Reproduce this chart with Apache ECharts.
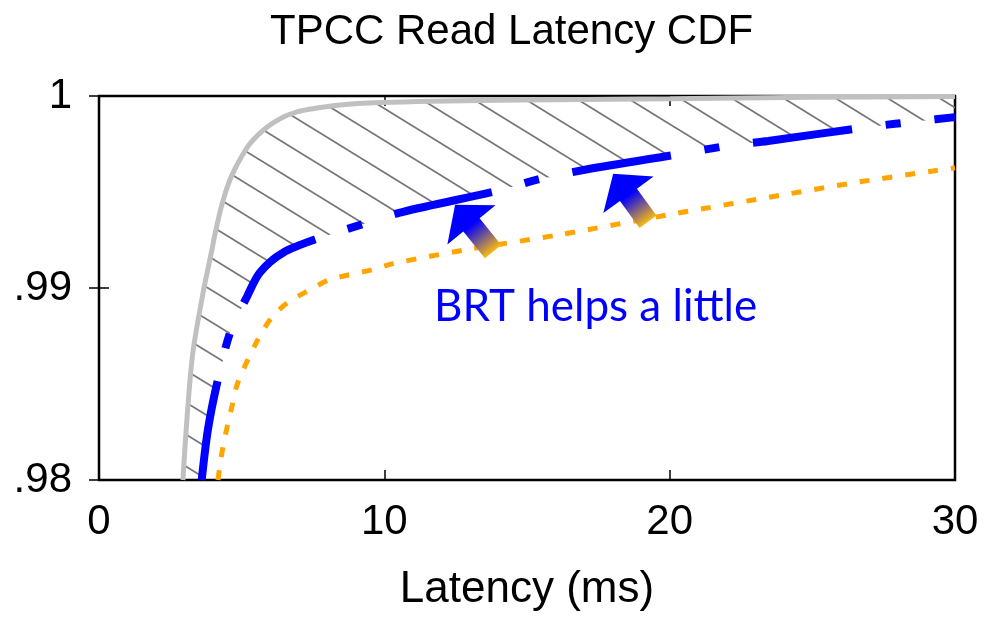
<!DOCTYPE html>
<html>
<head>
<meta charset="utf-8">
<script src="https://cdn.jsdelivr.net/npm/echarts@6/dist/echarts.min.js"></script>
<style>html,body{margin:0;padding:0;background:#fff}#c{width:990px;height:617px}</style>
</head>
<body>
<div id="c"></div>
<script>
// ---- data ----
const xTicks = [0, 10, 20, 30];
const yTickValues = [0.98, 0.99, 1];
const yTickLabels = ['.98', '.99', '1'];

const idealX = [2.94, 3.26, 3.65, 3.96, 4.05, 4.3, 4.59, 5.01, 5.4, 6.1, 6.94, 8.45, 9.85, 14, 20, 25, 30];
const idealY = [0.98, 0.98628, 0.98977, 0.9920, 0.9927, 0.9943, 0.99564, 0.99688, 0.99771, 0.9986, 0.99917, 0.99953, 0.99966, 0.99978, 0.99986, 0.99993, 0.99998];

const brtX = [3.6, 3.82, 4.17, 4.6, 5.19, 5.64, 6.45, 7.75, 9.3, 10.66, 14.13, 15.35, 17.03, 20.45, 22.0, 23.45, 26.99, 28.8, 30];
const brtY = [0.98, 0.98265, 0.98525, 0.9877, 0.98956, 0.99081, 0.99184, 0.99262, 0.99335, 0.99397, 0.99512, 0.99564, 0.99616, 0.997, 0.9974, 0.99766, 0.99839, 0.9987, 0.9989];

const baseX = [4.17, 4.35, 4.66, 4.87, 5.57, 6.06, 6.62, 7.29, 8.1, 9.6, 10.3, 12.9, 16.16, 20.1, 24.2, 26.67, 30];
const baseY = [0.98, 0.98177, 0.98384, 0.98509, 0.98732, 0.98847, 0.98925, 0.98982, 0.99044, 0.99096, 0.99127, 0.992, 0.99278, 0.99385, 0.99491, 0.99553, 0.99626];

const arrowTipX = [12.48, 18.02];
const arrowTipY = [0.99434, 0.99595];
const arrowTailX = [13.81, 19.24];
const arrowTailY = [0.9919, 0.99345];

const pairs = (xs, ys) => xs.map((x, i) => [x, ys[i]]);

// hatch pattern tile
const tile = document.createElement('canvas');
const tw = 52, th = 32;
tile.width = tw; tile.height = th;
(function () {
  const g = tile.getContext('2d');
  g.strokeStyle = '#777777';
  g.lineWidth = 1.8;
  for (let k = -1; k <= 1; k++) {
    g.beginPath();
    g.moveTo(-tw, -th + k * th);
    g.lineTo(2 * tw, 2 * th + k * th);
    g.stroke();
  }
})();

const chart = echarts.init(document.getElementById('c'), null, { renderer: 'canvas' });

const fontMain = 'Liberation Sans';
const tickStyle = { show: true, inside: true, length: 10, lineStyle: { color: '#000', width: 1.5 } };

const option = {
  animation: false,
  backgroundColor: '#fff',
  title: {
    text: 'TPCC Read Latency CDF',
    left: 265, top: 6,
    textStyle: { fontFamily: fontMain, fontSize: 42, fontWeight: 'normal', color: '#000' }
  },
  grid: { left: 99, right: 35, top: 96, bottom: 136, show: true, borderColor: '#000', borderWidth: 2.5, backgroundColor: 'transparent' },
  xAxis: [{
    type: 'value', min: 0, max: 30, interval: 10, position: 'bottom',
    axisLine: { show: false }, splitLine: { show: false },
    axisTick: tickStyle,
    axisLabel: { margin: 21, fontFamily: fontMain, fontSize: 42, color: '#000',
      formatter: v => xTicks.includes(v) ? String(v) : '' },
    name: 'Latency (ms)', nameLocation: 'middle', nameGap: 88,
    nameTextStyle: { fontFamily: fontMain, fontSize: 44, color: '#000' }
  }, {
    type: 'value', min: 0, max: 30, interval: 10, position: 'top',
    axisLine: { show: false }, splitLine: { show: false },
    axisTick: tickStyle, axisLabel: { show: false }
  }],
  yAxis: [{
    type: 'value', min: 0.98, max: 1, interval: 0.01, position: 'left',
    axisLine: { show: false }, splitLine: { show: false },
    axisTick: tickStyle,
    axisLabel: { margin: 27, fontFamily: fontMain, fontSize: 42, color: '#000',
      formatter: v => {
        let best = 0;
        yTickValues.forEach((t, i) => { if (Math.abs(t - v) < Math.abs(yTickValues[best] - v)) best = i; });
        return yTickLabels[best];
      } }
  }, {
    type: 'value', min: 0.98, max: 1, interval: 0.01, position: 'right',
    axisLine: { show: false }, splitLine: { show: false },
    axisTick: tickStyle, axisLabel: { show: false }
  }],
  series: [
    {
      type: 'custom', name: 'hatch', clip: true, z: 1,
      data: [[idealX[0], idealY[0]]],
      renderItem: (params, api) => {
        const pts = [];
        idealX.forEach((x, i) => pts.push(api.coord([x, idealY[i]])));
        for (let i = brtX.length - 1; i >= 0; i--) pts.push(api.coord([brtX[i], brtY[i]]));
        return { type: 'polygon', shape: { points: pts },
          style: { fill: { image: tile, repeat: 'repeat' }, stroke: null } };
      },
      silent: true
    },
    {
      type: 'line', name: 'ideal', data: pairs(idealX, idealY), showSymbol: false, smooth: 0.3, z: 3,
      lineStyle: { color: '#c0c0c0', width: 5 }, clip: true
    },
    {
      type: 'line', name: 'baseline', data: pairs(baseX, baseY), showSymbol: false, smooth: 0.3, z: 4,
      lineStyle: { color: '#ffa500', width: 5, type: [10, 13], cap: 'butt' }, clip: true
    },
    {
      type: 'line', name: 'BRT', data: pairs(brtX, brtY), showSymbol: false, smooth: 0.3, z: 5,
      lineStyle: { color: '#0000ff', width: 8, type: [100, 34, 15, 34], cap: 'butt' }, clip: true
    },
    {
      type: 'custom', name: 'arrows', z: 6,
      data: arrowTipX.map((x, i) => [x, arrowTipY[i], arrowTailX[i], arrowTailY[i]]),
      encode: { x: [0, 2], y: [1, 3] },
      renderItem: (params, api) => {
        const p = api.coord([api.value(0), api.value(1)]);
        const t = api.coord([api.value(2), api.value(3)]);
        let dx = p[0] - t[0], dy = p[1] - t[1];
        const len = Math.hypot(dx, dy); dx /= len; dy /= len;
        const nx = -dy, ny = dx;
        const headLen = 26, hw = 31, sw = 10.5;
        const b = [p[0] - dx * headLen, p[1] - dy * headLen];
        const pts = [
          p,
          [b[0] + nx * hw, b[1] + ny * hw],
          [b[0] + nx * sw, b[1] + ny * sw],
          [t[0] + nx * sw, t[1] + ny * sw],
          [t[0] - nx * sw, t[1] - ny * sw],
          [b[0] - nx * sw, b[1] - ny * sw],
          [b[0] - nx * hw, b[1] - ny * hw]
        ];
        return { type: 'polygon', shape: { points: pts },
          style: { fill: new echarts.graphic.LinearGradient(b[0], b[1], t[0], t[1],
            [{ offset: 0, color: '#0000ff' }, { offset: 1, color: '#f7b910' }], true) } };
      },
      silent: true
    }
  ],
  graphic: [{
    type: 'text', left: 434, top: 285,
    style: { text: 'BRT helps a little', fontFamily: 'Lato', fontSize: 44, fill: '#0000ff' }
  }]
};
chart.setOption(option);
</script>
</body>
</html>
